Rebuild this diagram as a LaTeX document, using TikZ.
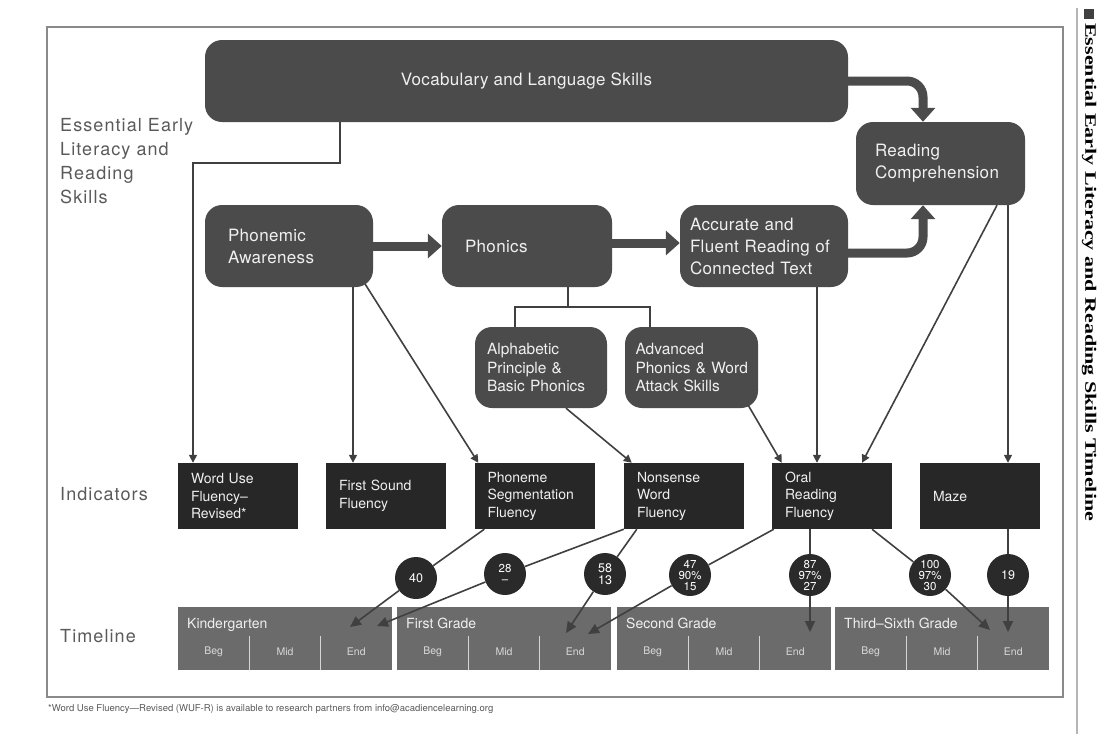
\documentclass[tikz,border=0pt]{standalone}
\usepackage{graphicx}
\usepackage{fontspec}
\setmainfont{TeX Gyre Heros}
\newfontfamily\labelfont[LetterSpace=6]{TeX Gyre Heros}
\newfontfamily\boxfont[LetterSpace=2]{TeX Gyre Heros}
\newfontfamily\sidefont{Liberation Serif}
\usetikzlibrary{arrows.meta}
\definecolor{skill}{HTML}{4B4B4B}
\definecolor{indic}{HTML}{272727}
\definecolor{circ}{HTML}{2A2A2A}
\definecolor{bandc}{HTML}{6B6B6B}
\definecolor{linec}{HTML}{404040}
\definecolor{labelc}{HTML}{5A5A5A}
\definecolor{boxtext}{HTML}{F0F0F0}
\definecolor{framec}{HTML}{8A8A8A}
\definecolor{sidebarc}{HTML}{B5B5B5}
\definecolor{divc}{HTML}{D5D5D5}
\tikzset{
  skillbox/.style={fill=skill, rounded corners=17pt, text=boxtext,
    font=\boxfont\fontsize{17}{22}\selectfont, align=left, inner xsep=23pt, inner ysep=0pt},
  smallskill/.style={font=\fontsize{15.5}{18.5}\selectfont},
  indbox/.style={fill=indic, text=boxtext, font=\fontsize{14}{17.5}\selectfont,
    align=left, inner xsep=13pt, inner ysep=0pt, minimum height=66pt, text width=94pt},
  numdot/.style={circle, fill=circ, text=white, minimum size=42pt, inner sep=0pt,
    align=center, font=\fontsize{11.5}{11}\selectfont},
  bigdot/.style={font=\fontsize{12.5}{12.5}\selectfont},
  thinline/.style={draw=linec, line width=1.6pt},
  thinarrow/.style={thinline, -{Triangle[length=8pt,width=8pt]}},
  bandarrow/.style={thinline, -{Triangle[length=11pt,width=10pt]}},
  thickarrow/.style={draw=skill, line width=9pt, -{Triangle[length=14pt,width=24pt]}},
  leftlabel/.style={font=\labelfont\fontsize{18}{24}\selectfont, text=labelc, align=left, inner sep=0pt},
  bandbox/.style={fill=bandc, minimum width=214pt, minimum height=63pt, inner sep=0pt},
  bandtitle/.style={text=boxtext, font=\fontsize{14}{16}\selectfont, inner sep=0pt},
  sublabel/.style={text=boxtext!90!black, font=\fontsize{10.5}{12}\selectfont, inner sep=0pt},
  divline/.style={draw=divc, line width=1.2pt}
}
\newcommand{\tlband}[3]{%
  \node[bandbox] (#1) at (#2+107,638.5) {};
  \node[bandtitle, anchor=base west] (#1title) at (#2+9,628) {#3};
  \draw[divline] (#2+71.3,636) -- (#2+71.3,670);
  \draw[divline] (#2+142.7,636) -- (#2+142.7,670);
  \node[sublabel] (#1beg) at (#2+35.7,652) {Beg};
  \node[sublabel] (#1mid) at (#2+107,652) {Mid};
  \node[sublabel] (#1end) at (#2+178.3,652) {End};
}
\begin{document}
\begin{tikzpicture}[x=1pt,y=-1pt]
\useasboundingbox (0,0) rectangle (1100,734);
% frame and sidebar
\draw[draw=framec, line width=1.4pt] (47,27) rectangle (1063,697);
\draw[draw=sidebarc, line width=2pt] (1077,8) -- (1077,734);
\fill[fill=black!75] (1084,9) rectangle (1094,19);
\node[rotate=-90, anchor=west, inner sep=0pt] (sidetitle) at (1089,23)
  {\resizebox{498pt}{11pt}{\sidefont\bfseries Essential Early Literacy and Reading Skills Timeline}};

% left labels
\node[leftlabel, anchor=north west] (esslab) at (60,118) {Essential Early\\Literacy and\\Reading\\Skills};
\node[leftlabel, anchor=west] (indlab) at (60,494) {Indicators};
\node[leftlabel, anchor=west] (timelab) at (60,636) {Timeline};

% skill boxes
\node[skillbox, minimum width=643pt, minimum height=82pt] (vocab) at (526.5,81) {Vocabulary and Language Skills};
\node[skillbox, inner xsep=19pt, text width=131pt, minimum height=83pt] (rc) at (940.5,163.5) {Reading\\Comprehension};
\node[skillbox, text width=122pt, minimum height=82pt] (pa) at (289,246) {Phonemic\\Awareness};
\node[skillbox, text width=124pt, minimum height=82pt] (phon) at (527,246) {Phonics};
\node[skillbox, inner xsep=10pt, text width=148pt, minimum height=82pt] (acc) at (764,246) {Accurate and\\Fluent Reading of\\Connected Text};
\node[skillbox, smallskill, inner xsep=12pt, text width=108pt, minimum height=81pt] (alpha) at (541,367.5) {Alphabetic\\Principle~\&\\Basic~Phonics};
\node[skillbox, smallskill, inner xsep=10.5pt, text width=112pt, minimum height=81pt] (adv) at (691.5,367.5) {Advanced\\\mbox{Phonics \& Word}\\Attack~Skills};

% thick arrows
\draw[thickarrow] (pa.east) -- (phon.west);
\draw[thickarrow] ([yshift=3pt]phon.east) -- ([yshift=3pt]acc.west);
\draw[thickarrow, rounded corners=16pt] (vocab.east) -| ([xshift=-17.5pt]rc.north);
\draw[thickarrow, rounded corners=16pt] ([yshift=-7pt]acc.east) -| ([xshift=-17.5pt]rc.south);

% phonics branches
\draw[thinline] ([xshift=41pt]phon.south) -- ++(0,20) coordinate (brj) -| ([xshift=-26pt]alpha.north);
\draw[thinline] (brj) -| ([xshift=-41.5pt]adv.north);

% indicators
\node[indbox] (wuf) at (238,496) {Word Use\\Fluency–\\Revised*};
\node[indbox] (fsf) at (386,496) {First Sound\\Fluency};
\node[indbox] (psf) at (534.5,496) {Phoneme\\Segmentation\\Fluency};
\node[indbox] (nwf) at (684,496) {Nonsense\\Word\\Fluency};
\node[indbox] (orf) at (832,496) {Oral\\Reading\\Fluency};
\node[indbox] (maze) at (980,496) {Maze};

% connectors to indicators
\draw[thinarrow] ([xshift=-186.5pt]vocab.south) -- ++(0,41) -| ([xshift=-45pt]wuf.north);
\draw[thinarrow] ([xshift=64pt]pa.south) -- ([xshift=-33pt]fsf.north);
\draw[thinarrow] ([xshift=-8pt,yshift=3pt]pa.south east) -- ([xshift=4pt]psf.north west);
\draw[thinarrow] ([xshift=25pt]alpha.south) -- ([xshift=8pt]nwf.north west);
\draw[thinarrow] ([xshift=-10pt,yshift=3pt]adv.south east) -- ([xshift=10pt]orf.north west);
\draw[thinarrow] ([xshift=53pt]acc.south) -- ([xshift=-15pt]orf.north);
\draw[thinarrow] ([xshift=56.5pt]rc.south) -- ([xshift=30pt]orf.north);
\draw[thinarrow] ([xshift=67.5pt]rc.south) -- ([xshift=28pt]maze.north);

% timeline bands
\tlband{kg}{178}{Kindergarten}
\tlband{fg}{397}{First Grade}
\tlband{sg}{617}{Second Grade}
\tlband{tg}{835}{Third–Sixth Grade}

% circles
\node[numdot, bigdot] (c40) at (416,578) {40};
\node[numdot] (c28) at (505,574) {28\\–};
\node[numdot, bigdot] (c58) at (605,574) {58\\13};
\node[numdot] (c47) at (690,575) {47\\90\%\\15};
\node[numdot] (c87) at (810,575) {87\\97\%\\27};
\node[numdot] (c100) at (930,575) {100\\97\%\\30};
\node[numdot, bigdot] (c19) at (1008,575) {19};

% indicator -> circles
\draw[thinline] ([xshift=10pt]psf.south west) -- (c40);
\draw[thinline] (nwf.south west) -- (c28);
\draw[thinline] ([xshift=13pt]nwf.south west) -- (c58);
\draw[thinline] ([xshift=2pt]orf.south west) -- (c47);
\draw[thinline] ([xshift=-22pt]orf.south) -- (c87);
\draw[thinline] ([xshift=40pt]orf.south) -- (c100);
\draw[thinline] ([xshift=28pt]maze.south) -- (c19);

% circles -> timeline
\coordinate (e40) at (350,627);
\coordinate (e28) at (377,626);
\coordinate (e58) at (566,633);
\coordinate (e47) at (588,634);
\coordinate (e87) at (810,632);
\coordinate (e100) at (990,630);
\coordinate (e19) at (1008,632);
\draw[bandarrow] (c40) -- (e40);
\draw[bandarrow] (c28) -- (e28);
\draw[bandarrow] (c58) -- (e58);
\draw[bandarrow] (c47) -- (e47);
\draw[bandarrow] (c87) -- (e87);
\draw[bandarrow] (c100) -- (e100);
\draw[bandarrow] (c19) -- (e19);

% footnote
\node[anchor=base west, inner sep=0pt, text=labelc, font=\fontsize{9.5}{11}\selectfont] (fn) at (48,711)
  {*Word Use Fluency—Revised (WUF-R) is available to research partners from info@acadiencelearning.org};
\end{tikzpicture}
\end{document}
